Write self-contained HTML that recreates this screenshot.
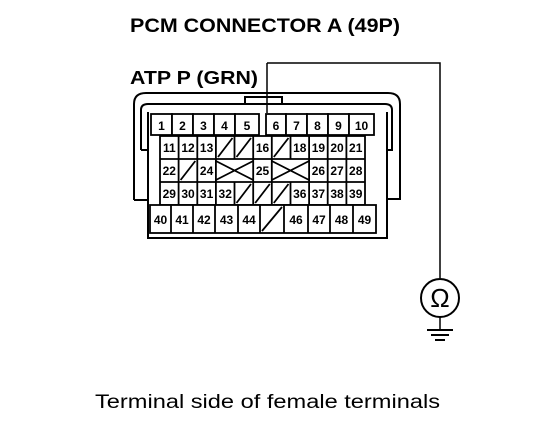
<!DOCTYPE html>
<html><head><style>
html,body{margin:0;padding:0;background:#fff;}
svg{display:block;}
text{font-family:"Liberation Sans",sans-serif;fill:#000;}
.n{font-size:12px;font-weight:bold;text-anchor:middle;}
</style></head><body>
<svg width="560" height="426" viewBox="0 0 560 426" xmlns="http://www.w3.org/2000/svg">
<text x="130" y="32" font-size="19" font-weight="bold" textLength="270" lengthAdjust="spacingAndGlyphs">PCM CONNECTOR A (49P)</text>
<text x="130" y="84" font-size="18" font-weight="bold" textLength="128" lengthAdjust="spacingAndGlyphs">ATP P (GRN)</text>
<g fill="none" stroke="#000" stroke-width="2">
<path d="M134,200 L134,104 Q134,93 146,93 L388,93 Q400,93 400,104 L400,199 L386,199"/>
<path d="M134,200 L147,200"/>
<path d="M141,150 L141,110 Q141,104 148,104 L385,104 Q392,104 392,110 L392,150 L386,150"/>
<path d="M141,150 L147,150"/>
<path d="M148,112 L148,238 L387,238 L387,112"/>
<rect x="245" y="97" width="37" height="7"/>
<path d="M267,63 L440,63 L440,278" stroke-width="1.5"/>
<path d="M267,63 L267,113" stroke-width="1.5"/>
<circle cx="440" cy="298" r="19"/>
<path d="M440,317 L440,330" stroke-width="1.5"/>
<path d="M427,330 L453,330 M431,335 L449,335 M435,340 L445,340"/>
</g>
<text x="440" y="307" font-size="26" text-anchor="middle">Ω</text>
<g fill="#fff" stroke="#000" stroke-width="1.8">
<rect x="151" y="114" width="21" height="21"/><rect x="172" y="114" width="21" height="21"/><rect x="193" y="114" width="21" height="21"/><rect x="214" y="114" width="21" height="21"/><rect x="235" y="114" width="24" height="21"/>
<rect x="266" y="114" width="20" height="21"/><rect x="286" y="114" width="21" height="21"/><rect x="307" y="114" width="21" height="21"/><rect x="328" y="114" width="21" height="21"/><rect x="349" y="114" width="25" height="21"/>
<rect x="160" y="136" width="205" height="69"/>
<rect x="150" y="205" width="226" height="28"/>
</g>
<g stroke="#000" stroke-width="1.8" fill="none">
<path d="M160,159 L365,159 M160,182 L365,182"/>
<path d="M178.6,136V159 M197.3,136V159 M215.9,136V159 M234.5,136V159 M253.2,136V159 M271.8,136V159 M290.5,136V159 M309.1,136V159 M327.7,136V159 M346.4,136V159"/>
<path d="M218,157 L232.5,138 M236.5,157 L251,138 M273.8,157 L288.5,138"/>
<path d="M178.6,159V182 M197.3,159V182 M215.9,159V182 M253.2,159V182 M271.8,159V182 M309.1,159V182 M327.7,159V182 M346.4,159V182"/>
<path d="M180.6,180 L195.3,161 M215.9,161 L253.2,180 M215.9,180 L253.2,161 M271.8,161 L309.1,180 M271.8,180 L309.1,161"/>
<path d="M178.6,182V205 M197.3,182V205 M215.9,182V205 M234.5,182V205 M253.2,182V205 M271.8,182V205 M290.5,182V205 M309.1,182V205 M327.7,182V205 M346.4,182V205"/>
<path d="M236.5,203 L251,184 M255.2,203 L269.8,184 M273.8,203 L288.5,184"/>
<path d="M171,205V233 M193,205V233 M215,205V233 M238,205V233 M260,205V233 M284,205V233 M308,205V233 M330,205V233 M353,205V233"/>
<path d="M262,231 L282,207"/>
</g>
<g class="n">
<text x="161.5" y="130">1</text><text x="182.5" y="130">2</text><text x="203.5" y="130">3</text><text x="224.5" y="130">4</text><text x="247" y="130">5</text>
<text x="276" y="130">6</text><text x="296.5" y="130">7</text><text x="317.5" y="130">8</text><text x="338.5" y="130">9</text><text x="361.5" y="130">10</text>
<text x="169.3" y="152">11</text><text x="188" y="152">12</text><text x="206.6" y="152">13</text><text x="262.5" y="152">16</text><text x="299.8" y="152">18</text><text x="318.4" y="152">19</text><text x="337" y="152">20</text><text x="355.7" y="152">21</text>
<text x="169.3" y="175">22</text><text x="206.6" y="175">24</text><text x="262.5" y="175">25</text><text x="318.4" y="175">26</text><text x="337" y="175">27</text><text x="355.7" y="175">28</text>
<text x="169.3" y="198">29</text><text x="188" y="198">30</text><text x="206.6" y="198">31</text><text x="225.2" y="198">32</text><text x="299.8" y="198">36</text><text x="318.4" y="198">37</text><text x="337" y="198">38</text><text x="355.7" y="198">39</text>
<text x="160.5" y="224">40</text><text x="182" y="224">41</text><text x="204" y="224">42</text><text x="226.5" y="224">43</text><text x="249" y="224">44</text><text x="296" y="224">46</text><text x="319" y="224">47</text><text x="341.5" y="224">48</text><text x="364.5" y="224">49</text>
</g>
<text x="95" y="408" font-size="19" textLength="345" lengthAdjust="spacingAndGlyphs">Terminal side of female terminals</text>
</svg>
</body></html>
